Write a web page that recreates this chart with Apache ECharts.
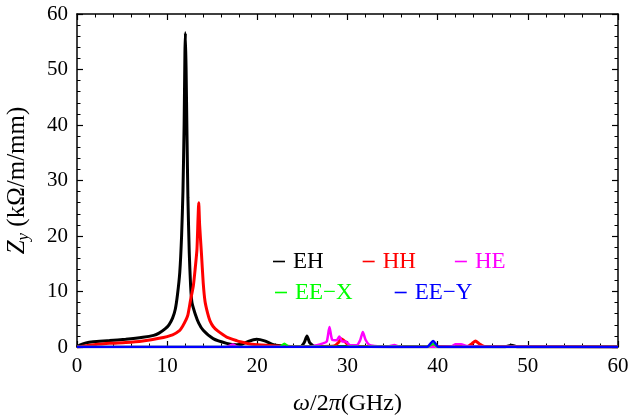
<!DOCTYPE html>
<html>
<head>
<meta charset="utf-8">
<script src="https://cdn.jsdelivr.net/npm/echarts@6/dist/echarts.min.js"></script>
<style>
    html, body { margin: 0; padding: 0; background: #fff; }
    #chart { width: 629px; height: 420px; }
</style>
</head>
<body>
<div id="chart"></div>
<script>
// frequency (GHz), impedance (kOhm/m/mm) pairs
var EH = [[0,0],[0.3,0.35],[1,0.75],[1.8,0.95],[3.6,1.15],[5.4,1.4],[7.3,1.75],[8.5,2.1],[9.1,2.5],[9.8,3.3],
    [10.2,4.0],[10.6,5.2],[10.9,6.8],[11.15,9.5],[11.4,13.5],[11.6,20],[11.75,28],[11.88,40],[11.97,53],[12.02,56.6],
    [12.1,50],[12.2,38],[12.3,27],[12.45,17],[12.6,11],[12.75,8],[13.1,6.0],[13.5,4.3],[14.0,3.0],[15.1,1.5],
    [16.6,0.66],[17.7,0.4],[18.3,0.5],[19.0,1.0],[19.9,1.38],[20.8,1.1],[21.8,0.4],[23,0.15],[24.8,0.1],[25.2,0.8],
    [25.5,2.0],[25.8,0.8],[26.3,0.15],[30,0.1],[35,0.05],[40,0.05],[47.5,0.05],[48.2,0.3],[48.8,0.05],[60,0.02]];
var HH = [[0,0],[0.5,0.1],[1.7,0.36],[3.6,0.66],[5.4,0.8],[7.3,1.08],[9.1,1.56],[10.6,2.2],[11.4,3.0],[11.7,3.7],
    [12.0,4.6],[12.3,5.8],[12.6,8.5],[12.9,11],[13.1,14],[13.3,17.5],[13.42,23],[13.5,26],[13.6,22],[13.8,16.9],
    [14.0,11.5],[14.2,8.2],[14.5,6.0],[14.75,4.7],[15.1,3.7],[15.6,2.9],[16.2,2.2],[16.6,1.8],[17.7,1.15],[18.1,0.95],
    [19.2,0.55],[20.5,0.35],[22,0.2],[25,0.1],[28.5,0.2],[29.0,0.8],[29.3,1.5],[29.7,1.0],[30.2,0.2],[33,0.1],
    [43.3,0.1],[43.8,0.6],[44.2,1.1],[44.6,0.6],[45.2,0.1],[60,0.05]];
var HE = [[0,0],[16.5,0],[17.0,0.3],[17.3,0.45],[17.7,0.1],[18.5,0],[26,0.1],[26.6,0.3],[27.2,0.6],[27.7,1.0],
    [28.0,3.6],[28.3,1.3],[28.8,1.2],[29.1,1.9],[29.4,1.0],[29.8,1.0],[30.3,0.3],[31.0,0.3],[31.4,1.2],[31.7,2.7],
    [32.0,1.3],[32.4,0.4],[33,0.2],[34.5,0.1],[35.2,0.35],[35.8,0.05],[41.5,0.1],[42.0,0.5],[42.6,0.5],[43.2,0.2],
    [45,0.1],[60,0]];
var EEX = [[0,0],[22.5,0.05],[23.0,0.6],[23.5,0.05],[38.9,0.05],[39.5,0.6],[40.0,0.05],[60,0]];
var EEY = [[0,0],[38.8,0],[39.5,1.1],[40.1,0],[60,0]];

var names = ['EH', 'HH', 'HE', 'EE\u2212X', 'EE\u2212Y'];
var colors = ['#000000', '#ff0000', '#ff00ff', '#00ff00', '#0000ff'];
var widths = [3, 3, 2.5, 2.5, 2.5];
var seriesData = [EH, HH, HE, EEX, EEY];

var FONT = 'Liberation Serif';
var chart = echarts.init(document.getElementById('chart'));

var frameAxis = function (extra) {
    var ax = {
        type: 'value',
        min: 0,
        max: 60,
        interval: 10,
        splitLine: { show: false },
        axisLine: { show: true, onZero: false, lineStyle: { color: '#000', width: 1.5 } },
        axisTick: { show: true, inside: true, length: 6, lineStyle: { color: '#000', width: 1.2 } },
        minorTick: { show: true, splitNumber: 5, length: 3.5, lineStyle: { color: '#000', width: 1 } },
        axisLabel: { show: false }
    };
    for (var k in extra) { ax[k] = extra[k]; }
    return ax;
};

var legendItem = function (i) {
    return { name: names[i], textStyle: { color: colors[i] } };
};

var series = [];
for (var i = 0; i < names.length; i++) {
    series.push({
        name: names[i],
        type: 'line',
        data: seriesData[i],
        showSymbol: false,
        smooth: 0.2,
        color: colors[i],
        lineStyle: { color: colors[i], width: widths[i] },
        z: 2 + i
    });
}

chart.setOption({
    animation: false,
    backgroundColor: '#fff',
    textStyle: { fontFamily: FONT },
    grid: { left: 77, right: 11, top: 14, bottom: 73, containLabel: false, outerBoundsMode: 'none' },
    legend: [{
        data: [legendItem(0), legendItem(1), legendItem(2)],
        left: 268, top: 245, orient: 'horizontal',
        icon: 'rect', itemWidth: 12, itemHeight: 1.6, itemGap: 39,
        textStyle: { fontFamily: FONT, fontSize: 23, padding: [0, 0, 0, 3] }
    }, {
        data: [legendItem(3), legendItem(4)],
        left: 270, top: 276, orient: 'horizontal',
        icon: 'rect', itemWidth: 12, itemHeight: 1.6, itemGap: 42,
        textStyle: { fontFamily: FONT, fontSize: 23, padding: [0, 0, 0, 3] }
    }],
    xAxis: [frameAxis({
        position: 'bottom',
        axisLabel: { show: true, color: '#000', fontFamily: FONT, fontSize: 21, margin: 9 },
        name: '{i|\u03c9}/2{i|\u03c0}(GHz)',
        nameLocation: 'middle',
        nameGap: 45,
        nameTextStyle: {
            color: '#000', fontFamily: FONT, fontSize: 24,
            rich: { i: { fontStyle: 'italic', fontFamily: FONT, fontSize: 24, color: '#000' } }
        }
    }), frameAxis({ position: 'top' })],
    yAxis: [frameAxis({
        position: 'left',
        axisLabel: { show: true, color: '#000', fontFamily: FONT, fontSize: 21, margin: 9 },
        name: '{i|Z}{s|y} (k\u03a9/m/mm)',
        nameLocation: 'middle',
        nameGap: 45,
        nameTextStyle: {
            color: '#000', fontFamily: FONT, fontSize: 25,
            rich: {
                i: { fontStyle: 'italic', fontFamily: FONT, fontSize: 25, color: '#000' },
                s: { fontStyle: 'italic', fontFamily: FONT, fontSize: 17, color: '#000', padding: [12, 0, 0, 0] }
            }
        }
    }), frameAxis({ position: 'right' })],
    series: series
});
</script>
</body>
</html>
